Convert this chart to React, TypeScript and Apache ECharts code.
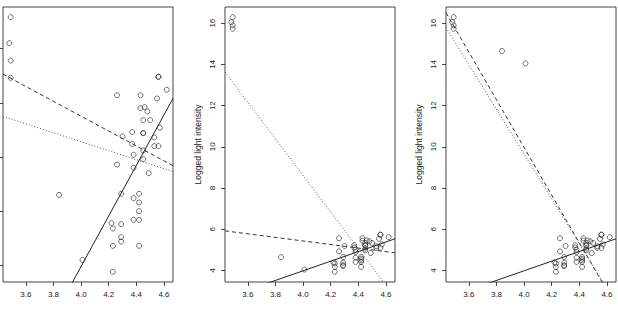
import React, { useEffect, useRef } from "react";
import * as echarts from "echarts";

// log.Te (temperature) of the 47 stars
const logTe = [
  4.37, 4.56, 4.26, 4.56, 4.3, 4.46, 3.84, 4.57, 4.26, 4.37, 3.49, 4.43, 4.48, 4.01, 4.29, 4.42,
  4.23, 4.42, 4.23, 3.49, 4.29, 4.29, 4.42, 4.49, 4.38, 4.42, 4.29, 4.38, 4.22, 3.48, 4.38, 4.56,
  4.45, 3.49, 4.23, 4.62, 4.53, 4.45, 4.53, 4.43, 4.38, 4.45, 4.5, 4.45, 4.55, 4.45, 4.42,
];
// panel 1: original light intensity
const lightA = [
  5.23, 5.74, 4.93, 5.74, 5.19, 5.46, 4.65, 5.27, 5.57, 5.12, 5.73, 5.45, 5.42, 4.05, 4.26, 4.58,
  3.94, 4.18, 4.18, 5.89, 4.38, 4.22, 4.42, 4.85, 5.02, 4.66, 4.66, 4.9, 4.39, 6.05, 4.42, 5.1,
  5.22, 6.29, 4.34, 5.62, 5.1, 5.22, 5.18, 5.57, 4.62, 5.06, 5.34, 5.34, 5.54, 4.98, 4.5,
];
// panel 2: giants moved up
const lightB = [
  5.23, 5.74, 4.93, 5.74, 5.19, 5.46, 4.65, 5.27, 5.57, 5.12, 15.73, 5.45, 5.42, 4.05, 4.26, 4.58,
  3.94, 4.18, 4.18, 15.89, 4.38, 4.22, 4.42, 4.85, 5.02, 4.66, 4.66, 4.9, 4.39, 16.05, 4.42, 5.1,
  5.22, 16.29, 4.34, 5.62, 5.1, 5.22, 5.18, 5.57, 4.62, 5.06, 5.34, 5.34, 5.54, 4.98, 4.5,
];
// panel 3: giants and two more stars moved up
const lightC = [
  5.23, 5.74, 4.93, 5.74, 5.19, 5.46, 14.65, 5.27, 5.57, 5.12, 15.73, 5.45, 5.42, 14.05, 4.26, 4.58,
  3.94, 4.18, 4.18, 15.89, 4.38, 4.22, 4.42, 4.85, 5.02, 4.66, 4.66, 4.9, 4.39, 16.05, 4.42, 5.1,
  5.22, 16.29, 4.34, 5.62, 5.1, 5.22, 5.18, 5.57, 4.62, 5.06, 5.34, 5.34, 5.54, 4.98, 4.5,
];

const xTicks = [3.6, 3.8, 4.0, 4.2, 4.4, 4.6];
const yTicksA = [4, 4.5, 5, 5.5, 6];
const yTicksBC = [4, 6, 8, 10, 12, 14, 16];

// robust fits: [intercept, slope] per panel
const solidIntercepts = [-5.33, -5.33, -5.33];
const solidSlopes = [2.33, 2.33, 2.33];
const dashedIntercepts = [8.12, 8.9, 56.21];
const dashedSlopes = [-0.686, -0.866, -11.56];

const yLabel = "Logged light intensity";

function ols(x: number[], y: number[]) {
  const n = x.length;
  const mx = x.reduce((a, b) => a + b, 0) / n;
  const my = y.reduce((a, b) => a + b, 0) / n;
  let sxy = 0;
  let sxx = 0;
  for (let i = 0; i < n; i++) {
    sxy += (x[i] - mx) * (y[i] - my);
    sxx += (x[i] - mx) * (x[i] - mx);
  }
  const b = sxy / sxx;
  return [my - b * mx, b];
}

function rRange(v: number[]) {
  const lo = Math.min(...v);
  const hi = Math.max(...v);
  const d = (hi - lo) * 0.04;
  return [lo - d, hi + d];
}

export default function App() {
  const ref = useRef<HTMLDivElement>(null);
  useEffect(() => {
    if (!ref.current) return;
    const chart = echarts.init(ref.current, null, { renderer: "svg" });
    const lights = [lightA, lightB, lightC];
    const yTicks = [yTicksA, yTicksBC, yTicksBC];
    const lefts = [3, 225, 446];
    const [xMin, xMax] = rRange(logTe);
    const font = "Liberation Sans, Arial, sans-serif";
    const textColor = "#222";

    const grid = lefts.map((l) => ({
      left: l,
      top: 7,
      width: 170,
      height: 275,
      show: true,
      borderColor: "#444",
      borderWidth: 1,
      backgroundColor: "transparent",
    }));

    const xAxis = lefts.map((_, i) => ({
      type: "value",
      gridIndex: i,
      min: xMin,
      max: xMax,
      axisLine: { show: false },
      splitLine: { show: false },
      axisTick: {
        show: true,
        inside: false,
        length: 4,
        customValues: xTicks,
        lineStyle: { color: "#444", width: 1 },
      },
      axisLabel: {
        customValues: xTicks,
        formatter: (v: number) => v.toFixed(1),
        fontSize: 8,
        margin: 8,
        color: textColor,
        fontFamily: font,
      },
    }));

    const yAxis = lefts.map((_, i) => {
      const [yMin, yMax] = rRange(lights[i]);
      return {
        type: "value",
        gridIndex: i,
        min: yMin,
        max: yMax,
        name: i === 0 ? "" : yLabel,
        nameLocation: "middle",
        nameGap: 23,
        nameTextStyle: { fontSize: 8.5, color: textColor, fontFamily: font },
        axisLine: { show: false },
        splitLine: { show: false },
        axisTick: {
          show: true,
          inside: false,
          length: 4,
          customValues: yTicks[i],
          lineStyle: { color: "#444", width: 1 },
        },
        axisLabel: {
          show: i !== 0,
          customValues: yTicks[i],
          formatter: (v: number) => String(v),
          rotate: 90,
          fontSize: 8,
          margin: 9,
          color: textColor,
          fontFamily: font,
        },
      };
    });

    const series: any[] = [];
    lights.forEach((ly, i) => {
      series.push({
        type: "scatter",
        xAxisIndex: i,
        yAxisIndex: i,
        data: logTe.map((x, k) => [x, ly[k]]),
        symbol: "circle",
        symbolSize: 5,
        itemStyle: { color: "rgba(0,0,0,0)", borderColor: "#222", borderWidth: 0.8 },
        silent: true,
      });
      const lineOf = (a: number, b: number) => [
        [xMin, a + b * xMin],
        [xMax, a + b * xMax],
      ];
      const [oa, ob] = ols(logTe, ly);
      const defs = [
        { d: lineOf(solidIntercepts[i], solidSlopes[i]), type: "solid", color: "#222" },
        { d: lineOf(dashedIntercepts[i], dashedSlopes[i]), type: [4, 3], color: "#333" },
        { d: lineOf(oa, ob), type: [1, 2], color: "#555" },
      ];
      defs.forEach((df) => {
        series.push({
          type: "line",
          xAxisIndex: i,
          yAxisIndex: i,
          data: df.d,
          symbol: "none",
          showSymbol: false,
          clip: true,
          silent: true,
          lineStyle: { color: df.color, width: 1, type: df.type },
        });
      });
    });

    chart.setOption({
      animation: false,
      backgroundColor: "#fff",
      grid,
      xAxis,
      yAxis,
      series,
    });
    return () => chart.dispose();
  }, []);
  return (
    <div
      ref={ref}
      style={{ position: "fixed", left: 0, top: 0, width: 618, height: 309, background: "#fff" }}
    />
  );
}
